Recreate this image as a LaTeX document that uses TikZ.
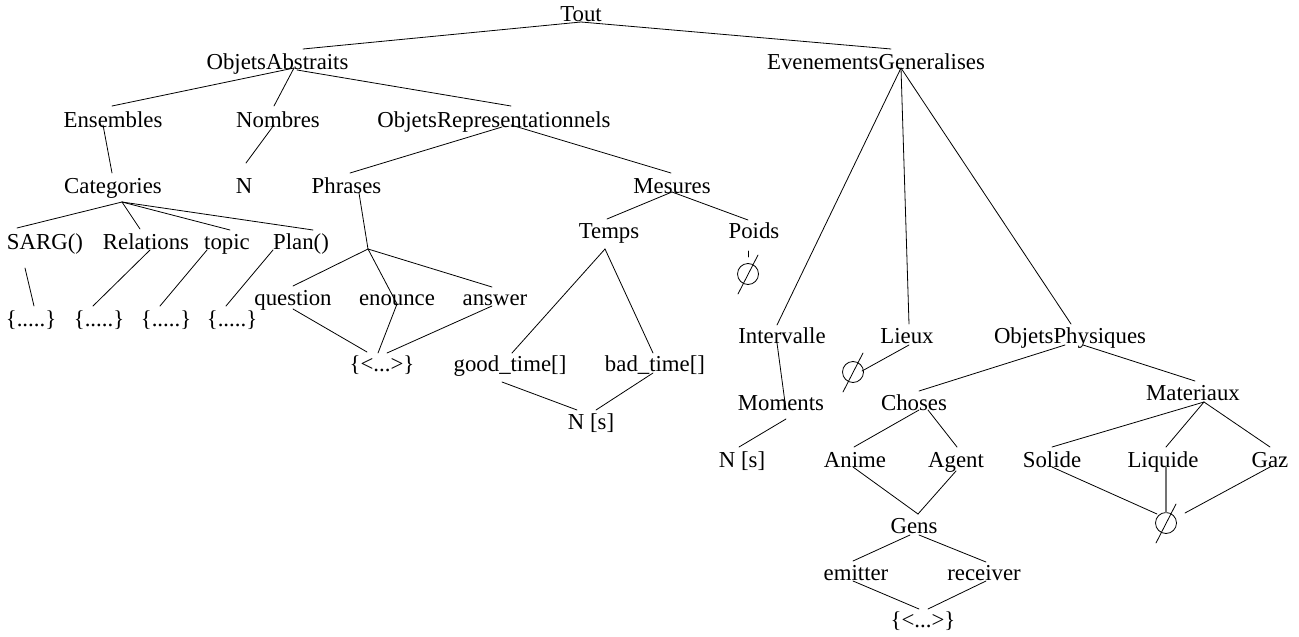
\documentclass[tikz,border=0pt]{standalone}
\usepackage{fontspec}
\setmainfont{Liberation Serif}
\begin{document}
\begin{tikzpicture}[x=1pt,y=-1pt,
  lbl/.style={anchor=base, inner sep=0pt, font=\fontsize{22.8}{26}\selectfont},
  nullset/.style={circle, draw, line width=0.8pt, minimum size=21pt, inner sep=0pt},
  conn/.style={line width=0.8pt, line cap=round},
  greyconn/.style={line width=1.6pt, draw=black!55}]
\useasboundingbox (0,0) rectangle (1299,637);
% nodes
\node[lbl] (tout) at (581,21) {Tout};
\node[lbl] (oa) at (277.5,69) {ObjetsAbstraits};
\node[lbl] (eg) at (876,69) {EvenementsGeneralises};
\node[lbl] (ens) at (113,127) {Ensembles};
\node[lbl] (nom) at (278,127) {Nombres};
\node[lbl] (orep) at (494,127) {ObjetsRepresentationnels};
\node[lbl] (cat) at (113,193) {Categories};
\node[lbl] (n1) at (244,193) {N};
\node[lbl] (phr) at (346.5,193) {Phrases};
\node[lbl] (mes) at (672,193) {Mesures};
\node[lbl] (sarg) at (45,249) {SARG()};
\node[lbl] (rel) at (146,249) {Relations};
\node[lbl] (topic) at (227,249) {topic};
\node[lbl] (plan) at (301,249) {Plan()};
\node[lbl] (temps) at (609,238) {Temps};
\node[lbl] (poids) at (754,238) {Poids};
\node[lbl] (b1) at (31,326) {\{.....\}};
\node[lbl] (b2) at (99,326) {\{.....\}};
\node[lbl] (b3) at (166,326) {\{.....\}};
\node[lbl] (b4) at (232,326) {\{.....\}};
\node[lbl] (quest) at (293,305) {question};
\node[lbl] (enon) at (397,305) {enounce};
\node[lbl] (answ) at (495,305) {answer};
\node[lbl] (set1) at (382,371) {\{<...>\}};
\node[lbl] (good) at (510,371) {good\_time[]};
\node[lbl] (bad) at (655,371) {bad\_time[]};
\node[lbl] (ns1) at (591,429) {N [s]};
\node[lbl] (interv) at (782,343) {Intervalle};
\node[lbl] (lieux) at (907,343) {Lieux};
\node[lbl] (ophys) at (1070,343) {ObjetsPhysiques};
\node[lbl] (mom) at (781,410) {Moments};
\node[lbl] (choses) at (914,410) {Choses};
\node[lbl] (mat) at (1193,400) {Materiaux};
\node[lbl] (ns2) at (742,467) {N [s]};
\node[lbl] (anime) at (855,467) {Anime};
\node[lbl] (agent) at (956,467) {Agent};
\node[lbl] (solide) at (1052,467) {Solide};
\node[lbl] (liquide) at (1163,467) {Liquide};
\node[lbl] (gaz) at (1270,467) {Gaz};
\node[lbl] (gens) at (914,533) {Gens};
\node[lbl] (emit) at (856,580) {emitter};
\node[lbl] (recv) at (984,580) {receiver};
\node[lbl] (set2) at (923,627) {\{<...>\}};
\node[nullset] (phi1) at (748,274) {};
\node[nullset] (phi2) at (853,372) {};
\node[nullset] (phi3) at (1166,523) {};
\coordinate (phj) at (368,249);
% slashes of the empty-set signs
\foreach \p in {phi1,phi2,phi3}
  \draw[conn] ([shift={(-10,20)}]\p.center) -- ([shift={(10,-19)}]\p.center);
% connectors
\draw[conn] ([shift={(0,1)}]tout.base) -- ([shift={(25.5,-20)}]oa.base);
\draw[conn] ([shift={(0,1)}]tout.base) -- ([shift={(15,-20)}]eg.base);
\draw[conn] ([shift={(16.5,-1)}]oa.base) -- ([shift={(-1,-21)}]ens.base);
\draw[conn] ([shift={(16.5,-1)}]oa.base) -- ([shift={(-4,-21)}]nom.base);
\draw[conn] ([shift={(19.5,1)}]oa.base) -- ([shift={(17,-21)}]orep.base);
\draw[conn] ([shift={(-10,-2)}]ens.base) -- ([shift={(-1,-20)}]cat.base);
\draw[conn] ([shift={(-4,-2)}]nom.base) -- ([shift={(2,-30)}]n1.base);
\draw[conn] ([shift={(8,0)}]orep.base) -- ([shift={(3.5,-20)}]phr.base);
\draw[conn] ([shift={(17,-2)}]orep.base) -- ([shift={(-1,-20)}]mes.base);
% Categories
\draw[conn] ([shift={(9,9)}]cat.base) -- ([shift={(-28,-21)}]sarg.base);
\draw[conn] ([shift={(9,9)}]cat.base) -- ([shift={(-6,-20)}]rel.base);
\draw[conn] ([shift={(9,9)}]cat.base) -- ([shift={(3,-19)}]topic.base);
\draw[conn] ([shift={(9,9)}]cat.base) -- ([shift={(12,-19)}]plan.base);
\draw[conn] ([shift={(-20,19)}]sarg.base) -- ([shift={(3,-20)}]b1.base);
\draw[conn] ([shift={(4,1)}]rel.base) -- ([shift={(-6,-20)}]b2.base);
\draw[conn] ([shift={(-20,1)}]topic.base) -- ([shift={(-6,-20)}]b3.base);
\draw[conn] ([shift={(-28,1)}]plan.base) -- ([shift={(-6,-20)}]b4.base);
% Phrases
\draw[conn] ([shift={(12.5,0)}]phr.base) -- (phj);
\draw[conn] (phj) -- ([shift={(0,-19)}]quest.base);
\draw[conn] (phj) -- ([shift={(0,-1)}]enon.base);
\draw[conn] (phj) -- ([shift={(-3,-18)}]answ.base);
\draw[conn] ([shift={(0,4)}]quest.base) -- ([shift={(-15,-19)}]set1.base);
\draw[conn] ([shift={(0,-1)}]enon.base) -- ([shift={(-4,-18)}]set1.base);
\draw[conn] ([shift={(-3,1)}]answ.base) -- ([shift={(5,-18)}]set1.base);
% Mesures
\draw[conn] ([shift={(0,-1)}]mes.base) -- ([shift={(-2,-19)}]temps.base);
\draw[conn] ([shift={(0,-1)}]mes.base) -- ([shift={(-6,-18)}]poids.base);
\draw[conn] ([shift={(-4,11)}]temps.base) -- ([shift={(2,-18)}]good.base);
\draw[conn] ([shift={(-4,11)}]temps.base) -- ([shift={(-2,-18)}]bad.base);
\draw[conn] ([shift={(-6,13)}]poids.base) -- ([shift={(0,-17)}]phi1.center);
\draw[conn] ([shift={(-8,11)}]good.base) -- ([shift={(-14,-19)}]ns1.base);
\draw[conn] ([shift={(-2,2)}]bad.base) -- ([shift={(5,-19)}]ns1.base);
% EvenementsGeneralises
\draw[conn] ([shift={(25,-1)}]eg.base) -- ([shift={(-5,-18)}]interv.base);
\draw[conn] ([shift={(25,-1)}]eg.base) -- ([shift={(2,-19)}]lieux.base);
\draw[conn] ([shift={(25,-1)}]eg.base) -- ([shift={(1,-19)}]ophys.base);
\draw[conn] ([shift={(-5,0)}]interv.base) -- ([shift={(5,0)}]mom.base);
\draw[conn] ([shift={(5,9)}]mom.base) -- ([shift={(-3,-20)}]ns2.base);
\draw[conn] ([shift={(2,2)}]lieux.base) -- ([shift={(9,-1)}]phi2.center);
\draw[conn] ([shift={(-5,2)}]ophys.base) -- ([shift={(5,-19)}]choses.base);
\draw[conn] ([shift={(13,2)}]ophys.base) -- ([shift={(2,-19)}]mat.base);
\draw[conn] ([shift={(5,0)}]choses.base) -- ([shift={(-1,-20)}]anime.base);
\draw[conn] ([shift={(14,0)}]choses.base) -- ([shift={(1,-20)}]agent.base);
\draw[conn] ([shift={(-2,0)}]anime.base) -- ([shift={(4,-19)}]gens.base);
\draw[conn] ([shift={(0,4)}]agent.base) -- ([shift={(4,-19)}]gens.base);
\draw[conn] ([shift={(-4,2)}]gens.base) -- ([shift={(-3,-19)}]emit.base);
\draw[conn] ([shift={(5,2)}]gens.base) -- ([shift={(2,-18)}]recv.base);
\draw[conn] ([shift={(-3,1)}]emit.base) -- ([shift={(-4,-18)}]set2.base);
\draw[conn] ([shift={(2,1)}]recv.base) -- ([shift={(5,-18)}]set2.base);
\draw[conn] ([shift={(11,2)}]mat.base) -- ([shift={(0,-20)}]solide.base);
\draw[conn] ([shift={(11,2)}]mat.base) -- ([shift={(3,-20)}]liquide.base);
\draw[conn] ([shift={(11,2)}]mat.base) -- ([shift={(0,-20)}]gaz.base);
\draw[conn] (solide.base) -- ([shift={(-9,-9)}]phi3.center);
\draw[greyconn] ([shift={(3,0)}]liquide.base) -- ([shift={(0,-10)}]phi3.center);
\draw[conn] (gaz.base) -- ([shift={(19,-10)}]phi3.center);
\end{tikzpicture}
\end{document}
